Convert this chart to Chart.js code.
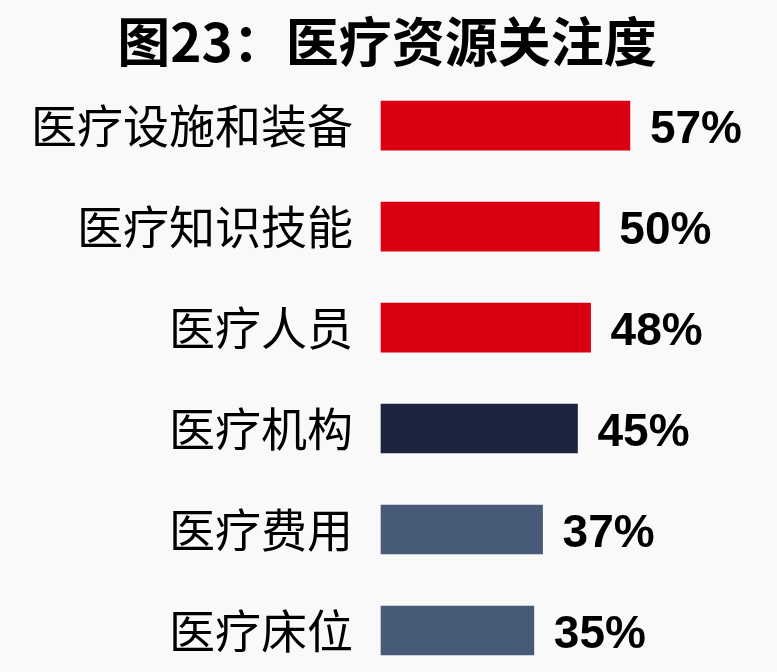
<!DOCTYPE html>
<html>
<head>
<meta charset="utf-8">
<script src="https://cdn.jsdelivr.net/npm/chart.js@4/dist/chart.umd.min.js"></script>
<style>
	html, body { margin: 0; padding: 0; background: #f9f9f9; }
	#wrap { width: 777px; height: 672px; }
</style>
</head>
<body>
<div id="wrap"><canvas id="chartBar"></canvas></div>
<script>
// 数据
const categories = ['医疗设施和装备', '医疗知识技能', '医疗人员', '医疗机构', '医疗费用', '医疗床位'];
const values = [57, 50, 48, 45, 37, 35];
const valueLabels = ['57%', '50%', '48%', '45%', '37%', '35%'];
const barColors = ['#da0012', '#da0012', '#da0012', '#1b253d', '#475a78', '#475a78'];

const cjk = '"Noto Sans CJK SC", "Noto Sans", sans-serif';

// 数值标签
const valueLabelPlugin = {
	id: 'valueLabels',
	afterDatasetsDraw(chart) {
		const ctx = chart.ctx;
		const meta = chart.getDatasetMeta(0);
		ctx.save();
		ctx.fillStyle = '#000';
		ctx.font = 'bold 46px "Liberation Sans", Arial, sans-serif';
		ctx.textAlign = 'left';
		ctx.textBaseline = 'alphabetic';
		meta.data.forEach((bar, i) => {
			ctx.fillText(valueLabels[i], bar.x + 20, bar.y + 17);
		});
		ctx.restore();
	}
};

const Bar = document.getElementById('chartBar').getContext('2d');
const chart = new Chart(Bar, {
	type: 'bar',
	data: {
		labels: categories,
		datasets: [{
			data: values,
			backgroundColor: barColors,
			borderWidth: 0,
			barThickness: 49,
			clip: false
		}]
	},
	options: {
		indexAxis: 'y',
		responsive: true,
		maintainAspectRatio: false,
		animation: false,
		layout: { padding: { left: 0, right: 3, top: 0, bottom: 41.5 } },
		plugins: {
			legend: { display: false },
			tooltip: { enabled: false },
			title: {
				display: true,
				text: '图23：医疗资源关注度',
				color: '#000',
				font: { family: cjk, size: 53, weight: 'bold', lineHeight: 1.2 },
				padding: { top: 10, bottom: 52 }
			}
		},
		scales: {
			x: {
				display: false,
				min: 0,
				max: 90
			},
			y: {
				offset: false,
				grid: { display: false, drawTicks: false },
				border: { display: false },
				ticks: {
					color: '#000',
					padding: 28,
					font: { family: cjk, size: 46 }
				},
				afterFit(scale) {
					scale.width = 381;
					scale.paddingTop = 0;
					scale.paddingBottom = 0;
				}
			}
		}
	},
	plugins: [valueLabelPlugin]
});
</script>
</body>
</html>
